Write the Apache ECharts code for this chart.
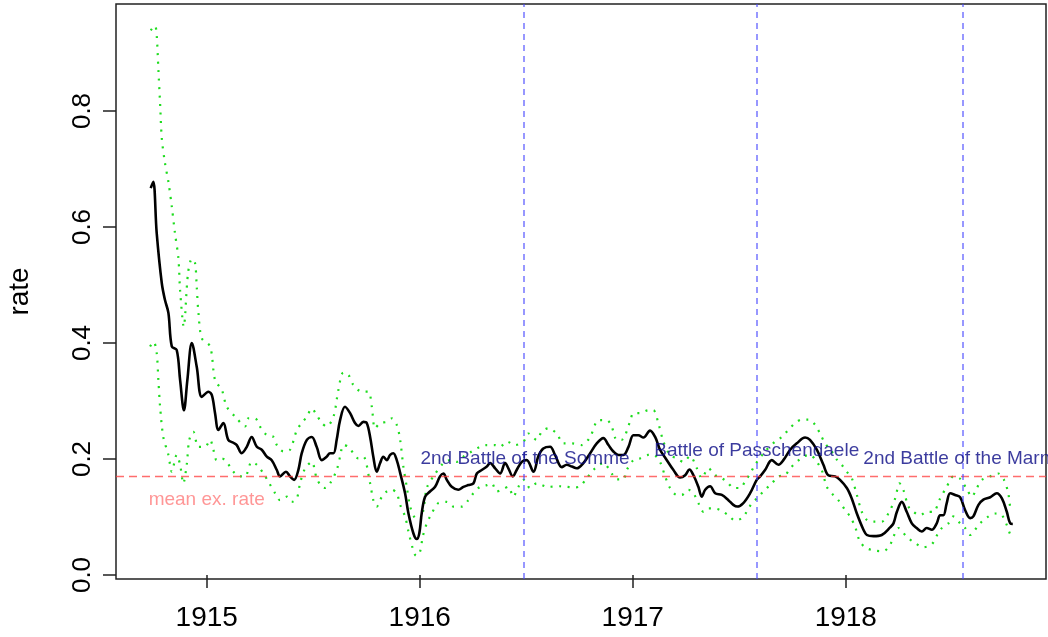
<!DOCTYPE html>
<html>
<head>
<meta charset="utf-8">
<script src="https://cdn.jsdelivr.net/npm/echarts@6/dist/echarts.min.js"></script>
<style>
  html, body { margin: 0; padding: 0; background: #fff; }
  #chart { width: 1048px; height: 637px; }
</style>
</head>
<body>
<div id="chart"></div>
<script>
// smoothed exchange rate (black line), decimal years
var fitYears = [1914.737,1914.749,1914.765,1914.789,1914.804,1914.820,1914.836,1914.859,1914.875,1914.893,1914.909,1914.930,1914.953,1914.977,1915.008,1915.024,1915.039,1915.055,1915.078,1915.101,1915.125,1915.141,1915.164,1915.188,1915.211,1915.235,1915.258,1915.282,1915.305,1915.329,1915.344,1915.372,1915.391,1915.410,1915.430,1915.446,1915.470,1915.493,1915.516,1915.540,1915.563,1915.579,1915.595,1915.610,1915.626,1915.649,1915.673,1915.696,1915.712,1915.735,1915.751,1915.767,1915.782,1915.798,1915.814,1915.829,1915.845,1915.861,1915.876,1915.892,1915.908,1915.931,1915.947,1915.970,1915.986,1915.998,1916.009,1916.025,1916.048,1916.072,1916.095,1916.111,1916.127,1916.150,1916.181,1916.205,1916.228,1916.252,1916.268,1916.291,1916.315,1916.330,1916.354,1916.377,1916.401,1916.416,1916.437,1916.455,1916.479,1916.502,1916.534,1916.557,1916.580,1916.612,1916.635,1916.667,1916.690,1916.714,1916.737,1916.768,1916.800,1916.831,1916.862,1916.886,1916.909,1916.933,1916.956,1916.980,1917.003,1917.026,1917.050,1917.081,1917.105,1917.128,1917.160,1917.191,1917.222,1917.246,1917.266,1917.285,1917.308,1917.324,1917.340,1917.363,1917.387,1917.418,1917.449,1917.472,1917.491,1917.519,1917.551,1917.582,1917.598,1917.621,1917.653,1917.684,1917.707,1917.739,1917.770,1917.809,1917.832,1917.864,1917.895,1917.918,1917.950,1917.973,1918.005,1918.028,1918.052,1918.083,1918.099,1918.130,1918.169,1918.208,1918.224,1918.240,1918.263,1918.286,1918.310,1918.333,1918.357,1918.380,1918.404,1918.427,1918.443,1918.458,1918.474,1918.490,1918.513,1918.537,1918.560,1918.584,1918.599,1918.623,1918.646,1918.678,1918.709,1918.733,1918.756,1918.772,1918.784];
var fitRate = [0.667,0.678,0.590,0.503,0.474,0.452,0.394,0.388,0.336,0.284,0.336,0.400,0.359,0.307,0.316,0.310,0.279,0.250,0.262,0.233,0.228,0.224,0.210,0.221,0.238,0.221,0.216,0.204,0.198,0.181,0.170,0.178,0.170,0.164,0.181,0.210,0.233,0.238,0.221,0.198,0.204,0.210,0.210,0.233,0.267,0.290,0.279,0.262,0.257,0.264,0.262,0.238,0.204,0.178,0.193,0.204,0.198,0.207,0.210,0.198,0.176,0.141,0.106,0.072,0.062,0.072,0.106,0.135,0.144,0.152,0.170,0.175,0.164,0.152,0.147,0.152,0.155,0.158,0.175,0.181,0.187,0.193,0.184,0.175,0.193,0.184,0.170,0.181,0.195,0.198,0.178,0.205,0.218,0.221,0.207,0.186,0.190,0.187,0.184,0.193,0.210,0.227,0.236,0.224,0.213,0.207,0.207,0.221,0.241,0.241,0.237,0.249,0.238,0.216,0.198,0.181,0.168,0.172,0.182,0.172,0.152,0.135,0.147,0.153,0.141,0.138,0.129,0.121,0.118,0.124,0.141,0.164,0.170,0.181,0.198,0.190,0.198,0.216,0.227,0.237,0.233,0.216,0.190,0.172,0.170,0.164,0.150,0.132,0.106,0.078,0.069,0.067,0.069,0.082,0.089,0.109,0.126,0.109,0.089,0.081,0.075,0.081,0.078,0.089,0.103,0.103,0.124,0.141,0.138,0.134,0.112,0.098,0.101,0.121,0.130,0.134,0.141,0.132,0.109,0.089,0.088];

// upper confidence band (green dotted)
var upperYears = [1914.737,1914.757,1914.765,1914.773,1914.781,1914.789,1914.804,1914.820,1914.836,1914.851,1914.867,1914.875,1914.892,1914.912,1914.930,1914.945,1914.953,1914.961,1914.977,1915.016,1915.039,1915.071,1915.094,1915.141,1915.180,1915.195,1915.227,1915.250,1915.282,1915.313,1915.329,1915.360,1915.391,1915.423,1915.446,1915.470,1915.493,1915.516,1915.540,1915.563,1915.595,1915.618,1915.641,1915.665,1915.688,1915.728,1915.759,1915.775,1915.790,1915.814,1915.845,1915.869,1915.892,1915.908,1915.923,1915.939,1915.955,1915.978,1916.001,1916.017,1916.033,1916.064,1916.111,1916.142,1916.174,1916.205,1916.244,1916.283,1916.315,1916.354,1916.377,1916.409,1916.448,1916.487,1916.510,1916.549,1916.573,1916.604,1916.643,1916.674,1916.714,1916.761,1916.800,1916.839,1916.878,1916.901,1916.925,1916.948,1916.987,1917.003,1917.034,1917.073,1917.097,1917.120,1917.144,1917.175,1917.207,1917.238,1917.269,1917.301,1917.324,1917.355,1917.387,1917.418,1917.449,1917.472,1917.504,1917.527,1917.551,1917.574,1917.621,1917.668,1917.700,1917.730,1917.762,1917.793,1917.825,1917.856,1917.879,1917.903,1917.934,1917.958,1917.981,1918.005,1918.028,1918.052,1918.075,1918.099,1918.130,1918.169,1918.200,1918.232,1918.252,1918.270,1918.294,1918.317,1918.349,1918.380,1918.411,1918.443,1918.474,1918.505,1918.537,1918.568,1918.592,1918.615,1918.639,1918.678,1918.716,1918.743,1918.763,1918.772,1918.784];
var upperRate = [0.939,0.947,0.931,0.871,0.813,0.753,0.710,0.678,0.635,0.589,0.546,0.490,0.428,0.520,0.545,0.538,0.497,0.452,0.408,0.394,0.336,0.319,0.290,0.270,0.256,0.270,0.270,0.256,0.241,0.238,0.224,0.213,0.216,0.250,0.262,0.273,0.287,0.276,0.262,0.256,0.273,0.319,0.349,0.345,0.328,0.316,0.316,0.290,0.253,0.262,0.264,0.270,0.259,0.233,0.187,0.152,0.118,0.098,0.095,0.112,0.150,0.170,0.193,0.198,0.195,0.204,0.213,0.221,0.224,0.224,0.221,0.230,0.224,0.230,0.244,0.233,0.247,0.253,0.244,0.227,0.227,0.224,0.238,0.267,0.267,0.256,0.233,0.233,0.264,0.279,0.279,0.284,0.284,0.262,0.230,0.207,0.201,0.195,0.205,0.184,0.167,0.184,0.172,0.167,0.158,0.150,0.150,0.161,0.175,0.190,0.213,0.230,0.238,0.250,0.262,0.268,0.268,0.259,0.244,0.227,0.213,0.199,0.190,0.178,0.167,0.138,0.109,0.095,0.092,0.092,0.106,0.132,0.158,0.147,0.118,0.109,0.103,0.109,0.109,0.132,0.152,0.170,0.166,0.148,0.135,0.150,0.164,0.170,0.175,0.164,0.141,0.118,0.112];

// lower confidence band (green dotted)
var lowerYears = [1914.734,1914.751,1914.765,1914.773,1914.781,1914.796,1914.820,1914.836,1914.859,1914.875,1914.890,1914.906,1914.918,1914.937,1914.961,1914.992,1915.016,1915.031,1915.047,1915.071,1915.094,1915.125,1915.156,1915.180,1915.211,1915.235,1915.266,1915.289,1915.321,1915.344,1915.376,1915.399,1915.423,1915.438,1915.462,1915.493,1915.516,1915.540,1915.555,1915.579,1915.610,1915.626,1915.641,1915.665,1915.688,1915.712,1915.735,1915.767,1915.782,1915.798,1915.822,1915.845,1915.869,1915.892,1915.908,1915.931,1915.947,1915.967,1915.983,1916.001,1916.014,1916.033,1916.056,1916.087,1916.127,1916.158,1916.197,1916.228,1916.252,1916.283,1916.315,1916.338,1916.361,1916.385,1916.416,1916.439,1916.463,1916.487,1916.518,1916.549,1916.602,1916.659,1916.690,1916.721,1916.753,1916.784,1916.823,1916.862,1916.901,1916.925,1916.956,1916.972,1917.003,1917.034,1917.073,1917.097,1917.128,1917.152,1917.175,1917.207,1917.230,1917.261,1917.285,1917.308,1917.332,1917.355,1917.378,1917.410,1917.449,1917.480,1917.512,1917.535,1917.559,1917.582,1917.613,1917.653,1917.684,1917.715,1917.739,1917.770,1917.801,1917.832,1917.864,1917.887,1917.911,1917.934,1917.965,1917.997,1918.020,1918.044,1918.067,1918.099,1918.138,1918.177,1918.208,1918.224,1918.247,1918.286,1918.326,1918.364,1918.404,1918.443,1918.482,1918.505,1918.537,1918.560,1918.584,1918.607,1918.630,1918.662,1918.701,1918.733,1918.756,1918.772,1918.784];
var lowerRate = [0.394,0.402,0.383,0.336,0.290,0.238,0.207,0.178,0.207,0.190,0.158,0.190,0.233,0.247,0.221,0.221,0.233,0.216,0.198,0.201,0.195,0.178,0.170,0.170,0.195,0.190,0.175,0.161,0.141,0.129,0.135,0.126,0.132,0.158,0.184,0.195,0.167,0.152,0.150,0.158,0.181,0.204,0.224,0.221,0.210,0.201,0.204,0.158,0.129,0.118,0.135,0.144,0.147,0.141,0.121,0.101,0.075,0.046,0.033,0.040,0.066,0.089,0.106,0.124,0.126,0.118,0.118,0.129,0.141,0.152,0.155,0.158,0.144,0.147,0.152,0.135,0.152,0.164,0.150,0.158,0.152,0.153,0.152,0.151,0.153,0.167,0.184,0.193,0.175,0.165,0.165,0.181,0.198,0.201,0.207,0.207,0.195,0.170,0.150,0.138,0.138,0.147,0.141,0.124,0.109,0.115,0.115,0.112,0.103,0.094,0.098,0.109,0.124,0.132,0.144,0.158,0.170,0.172,0.184,0.195,0.204,0.207,0.195,0.181,0.152,0.141,0.129,0.112,0.101,0.083,0.057,0.046,0.042,0.041,0.052,0.066,0.081,0.066,0.055,0.048,0.053,0.078,0.089,0.101,0.089,0.081,0.069,0.078,0.089,0.099,0.106,0.103,0.086,0.070,0.063];

var meanRate = 0.17;
var battleDates = [1916.494, 1917.582, 1918.546];
var battleNames = ['2nd Battle of the Somme', 'Battle of Passchendaele', '2nd Battle of the Marne'];
var battleLabelY = [0.2, 0.214, 0.2];
var yearTicks = [1915, 1916, 1917, 1918];
var rateTicks = [0, 0.2, 0.4, 0.6, 0.8];

function pairs(xs, ys) {
    return xs.map(function (x, i) { return [x, ys[i]]; });
}

var font = '"Liberation Sans", Arial, Helvetica, sans-serif';
var myChart = echarts.init(document.getElementById('chart'));

option = {
    animation: false,
    grid: {
        left: 116, right: 2, top: 4, bottom: 58,
        containLabel: false, outerBoundsMode: 'none',
        show: true, borderColor: '#222', borderWidth: 1.5, backgroundColor: 'transparent'
    },
    xAxis: {
        type: 'value',
        min: 1914.574,
        max: 1918.94,
        splitLine: { show: false },
        axisLine: { show: false },
        axisTick: { show: true, customValues: yearTicks, length: 13, inside: false,
            lineStyle: { color: '#222', width: 1.5 } },
        axisLabel: { customValues: yearTicks, margin: 25, color: '#000',
            fontSize: 28, fontFamily: font, formatter: function (v) { return String(v); } }
    },
    yAxis: {
        type: 'value',
        min: -0.0069,
        max: 0.9845,
        name: 'rate',
        nameLocation: 'middle',
        nameGap: 82,
        nameTextStyle: { fontSize: 28, fontFamily: font, color: '#000' },
        splitLine: { show: false },
        axisLine: { show: false },
        axisTick: { show: true, customValues: rateTicks, length: 13,
            lineStyle: { color: '#222', width: 1.5 } },
        axisLabel: { customValues: rateTicks, rotate: 90, margin: 20, color: '#000',
            fontSize: 26, fontFamily: font, formatter: function (v) { return v.toFixed(1); } }
    },
    series: [
        {
            name: 'upper',
            type: 'line',
            data: pairs(upperYears, upperRate),
            showSymbol: false,
            smooth: 0.3,
            lineStyle: { color: '#1edc1e', width: 2.2, type: [2, 6.5] },
            z: 2
        },
        {
            name: 'lower',
            type: 'line',
            data: pairs(lowerYears, lowerRate),
            showSymbol: false,
            smooth: 0.3,
            lineStyle: { color: '#1edc1e', width: 2.2, type: [2, 6.5] },
            z: 2
        },
        {
            name: 'rate',
            type: 'line',
            data: pairs(fitYears, fitRate),
            showSymbol: false,
            smooth: 0.35,
            lineStyle: { color: '#000', width: 2.6 },
            z: 4,
            markLine: {
                silent: true,
                symbol: ['none', 'none'],
                label: { show: false },
                data: [
                    { yAxis: meanRate, lineStyle: { color: 'rgba(255,60,60,0.75)', width: 1.3, type: [8, 5] } }
                ].concat(battleDates.map(function (d) {
                    return { xAxis: d, lineStyle: { color: 'rgba(70,70,255,0.75)', width: 1.5, type: [6, 5] } };
                }))
            }
        },
        {
            name: 'labels',
            type: 'scatter',
            symbolSize: 0,
            data: battleDates.map(function (d, i) { return { value: [d, battleLabelY[i]], name: battleNames[i] }; })
                .concat([{ value: [1915.0, 0.129], name: 'mean ex. rate',
                    label: { color: 'rgba(255,80,80,0.75)' } }]),
            label: {
                show: true, position: 'inside', color: '#0a0a86',
                fontSize: 19, fontFamily: font,
                formatter: function (p) { return p.name; }
            },
            z: 5
        }
    ]
};
myChart.setOption(option);
</script>
</body>
</html>
